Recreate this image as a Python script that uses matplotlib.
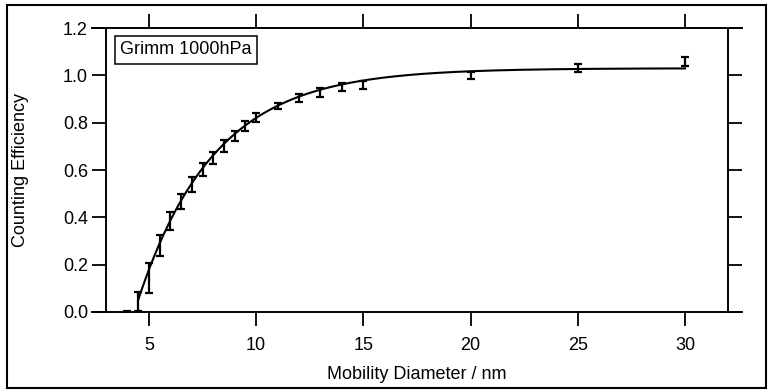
import numpy as np
import matplotlib
matplotlib.use("Agg")
import matplotlib.pyplot as plt
from matplotlib.lines import Line2D
from matplotlib.patches import Rectangle

plt.rcParams['font.family'] = ['Liberation Sans', 'DejaVu Sans']

# Measured counting efficiency vs. mobility diameter
diameter_nm = [4.0, 4.5, 5.0, 5.5, 6.0, 6.5, 7.0, 7.5, 8.0, 8.5, 9.0, 9.5,
               10.0, 11.0, 12.0, 13.0, 14.0, 15.0, 20.0, 25.0, 30.0]
efficiency = [0.002, 0.046, 0.145, 0.281, 0.384, 0.467, 0.539, 0.601, 0.651,
              0.702, 0.745, 0.787, 0.820, 0.870, 0.903, 0.927, 0.951, 0.959,
              1.000, 1.031, 1.058]
efficiency_err = [0.004, 0.040, 0.063, 0.044, 0.037, 0.032, 0.030, 0.027,
                  0.026, 0.025, 0.021, 0.021, 0.019, 0.013, 0.017, 0.018,
                  0.017, 0.018, 0.014, 0.017, 0.018]

# Exponential fit: E = A * (1 - exp(-(d - d0) / d1))
fit_A = 1.03
fit_d0 = 4.32
fit_d1 = 3.57
fit_range = (4.5, 30.0)

x_ticks = [5, 10, 15, 20, 25, 30]
y_ticks = [0.0, 0.2, 0.4, 0.6, 0.8, 1.0, 1.2]
legend_text = "Grimm 1000hPa"

W, H = 770, 390
fig = plt.figure(figsize=(W / 100, H / 100), dpi=100)
ax_l, ax_r, ax_b, ax_t = 106, 728, 312, 28
ax = fig.add_axes([ax_l / W, 1 - ax_b / H, (ax_r - ax_l) / W, (ax_b - ax_t) / H])

fs = 13
ax.errorbar(diameter_nm, efficiency, yerr=efficiency_err, fmt='none',
            ecolor='black', elinewidth=1.6, capsize=3.2, capthick=1.6,
            zorder=3)

d_fit = np.linspace(fit_range[0], fit_range[1], 400)
e_fit = fit_A * (1 - np.exp(-(d_fit - fit_d0) / fit_d1))
ax.plot(d_fit, e_fit, color='black', lw=1.5, zorder=2)

ax.set_xlim(3, 32)
ax.set_ylim(0, 1.2)
ax.set_xticks(x_ticks)
ax.set_yticks(y_ticks)
ax.set_yticklabels([f"{v:.1f}" for v in y_ticks])
ax.tick_params(axis='both', direction='out', length=10, width=1.3,
               labelsize=fs, pad=4, colors='black')
ax.tick_params(axis='x', top=True, labeltop=False, pad=8)
ax.tick_params(axis='y', right=True, labelright=False, pad=3)

# Frame: horizontal lines run out to the tick length on both sides
for s in ax.spines.values():
    s.set_visible(False)
ext = 14 / (ax_r - ax_l)
for yy in (0, 1):
    ax.add_line(Line2D([-ext, 1 + ext], [yy, yy], transform=ax.transAxes,
                       color='black', lw=1.4, clip_on=False))
for xx in (0, 1):
    ax.add_line(Line2D([xx, xx], [0, 1], transform=ax.transAxes,
                       color='black', lw=1.4, clip_on=False))

ax.set_xlabel("Mobility Diameter / nm", fontsize=fs)
ax.set_ylabel("Counting Efficiency", fontsize=fs)
ax.xaxis.set_label_coords(0.5, -(366 - ax_b) / (ax_b - ax_t))
ax.yaxis.set_label_coords(-(ax_l - 29) / (ax_r - ax_l), 0.5)

ax.text(120 / W, 1 - 50 / H, legend_text, transform=fig.transFigure,
        fontsize=fs, va='center', ha='left',
        bbox=dict(boxstyle='square,pad=0.3', fc='white', ec='black', lw=1.1))

# Outer figure border
fig.patches.append(Rectangle((7 / W, 1 - 388 / H), (766 - 7) / W, (388 - 5) / H,
                             transform=fig.transFigure, fill=False,
                             ec='black', lw=1.5))

fig.savefig("out.png", dpi=100)
